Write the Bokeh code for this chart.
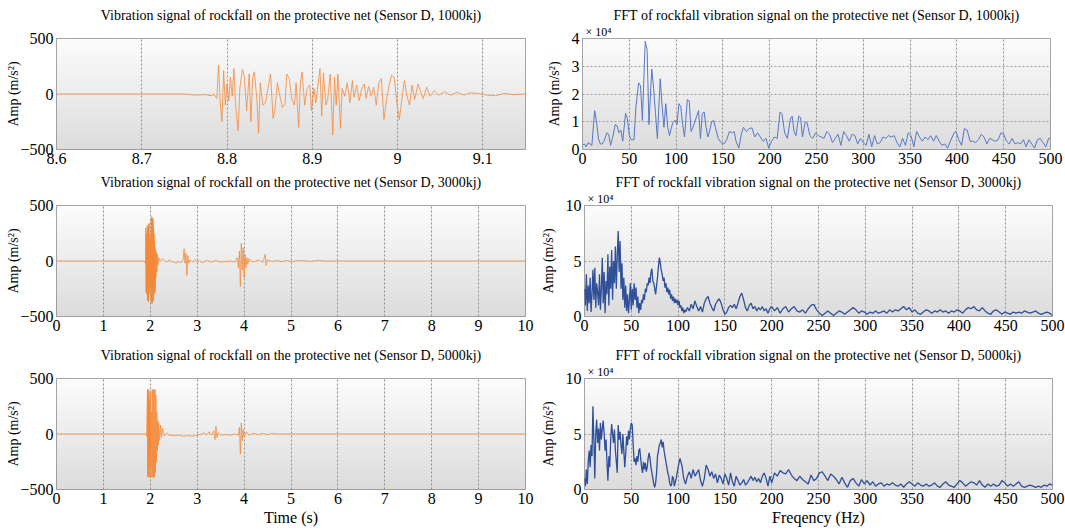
import numpy as np
from bokeh.plotting import figure
from bokeh.layouts import column, row
from bokeh.models import FixedTicker, Title
from bokeh.embed import file_html
from bokeh.resources import INLINE

SERIF = "Liberation Serif"

# ---------------- data ----------------
# time signal, 1000 kJ (t [s], amp [m/s^2])
sig1000 = [(8.60, 0), (8.75, 0), (8.755, -5), (8.765, -10), (8.775, -5), (8.78, -15), (8.785, -5),
           (8.788, -40), (8.790, 260), (8.792, -80), (8.794, -250), (8.796, 210), (8.798, -100),
           (8.800, 90), (8.802, -60), (8.804, 150), (8.806, -20), (8.808, 230), (8.810, -100),
           (8.813, -330), (8.815, 50), (8.818, 220), (8.820, 170), (8.823, -150), (8.826, 180),
           (8.828, -250), (8.830, 150), (8.832, 200), (8.835, -50), (8.837, -350), (8.839, 100),
           (8.842, -100), (8.845, -80), (8.848, 50), (8.851, 180), (8.854, -220), (8.856, -150),
           (8.859, 100), (8.862, -20), (8.865, -120), (8.868, -90), (8.870, 180), (8.873, 140),
           (8.876, -50), (8.879, -100), (8.881, 100), (8.884, -300), (8.886, 100), (8.888, 200),
           (8.891, -100), (8.894, 50), (8.897, 80), (8.899, -150), (8.902, 50), (8.904, -80),
           (8.906, 40), (8.909, 230), (8.911, -200), (8.913, 190), (8.916, -100), (8.918, -50),
           (8.921, 180), (8.924, -370), (8.926, 150), (8.928, -100), (8.930, 180), (8.933, -310),
           (8.935, 50), (8.938, -20), (8.941, 100), (8.944, -80), (8.947, 120), (8.949, -30),
           (8.952, 80), (8.955, -60), (8.958, 50), (8.961, 90), (8.963, -40), (8.966, 70),
           (8.969, -20), (8.972, 60), (8.975, -100), (8.978, 100), (8.981, 140), (8.984, -230),
           (8.987, -50), (8.990, 80), (8.993, 170), (8.996, 150), (8.999, -70), (9.002, -230),
           (9.005, -50), (9.008, 120), (9.011, -20), (9.014, -100), (9.017, 80), (9.020, -50),
           (9.024, 90), (9.027, 20), (9.030, -40), (9.034, 60), (9.038, -20), (9.043, 30),
           (9.048, -10), (9.055, 20), (9.062, -10), (9.070, 15), (9.078, -10), (9.085, 10),
           (9.095, 5), (9.105, -10), (9.115, -15), (9.125, 5), (9.135, -5), (9.15, 0)]

# time signal, 3000 kJ
sig3000 = [(0, 0), (1.88, 0), (1.90, -30), (1.905, 300), (1.91, -280), (1.915, 250), (1.92, -300),
           (1.925, 200), (1.93, -200), (1.935, 320), (1.94, -350), (1.945, 280), (1.95, -360),
           (1.955, 300), (1.96, -370), (1.965, 330), (1.97, -300), (1.975, 340), (1.98, -250),
           (1.985, 200), (1.99, -280), (1.995, 150), (2.0, -200), (2.01, 250), (2.015, -350),
           (2.02, 380), (2.025, -380), (2.03, 400), (2.035, -370), (2.04, 390), (2.045, -380),
           (2.05, 350), (2.055, -300), (2.06, 380), (2.065, -360), (2.07, 300), (2.075, -250),
           (2.08, 250), (2.085, -300), (2.09, 180), (2.095, -200), (2.10, 120), (2.11, -280),
           (2.115, 100), (2.12, -150), (2.13, 80), (2.14, -100), (2.15, 60), (2.16, -40),
           (2.18, 30), (2.2, 0), (2.25, 20), (2.3, 5), (2.35, -10), (2.4, 10), (2.45, -5),
           (2.5, -10), (2.55, -20), (2.6, -5), (2.65, -15), (2.7, 10), (2.72, 110), (2.74, -20),
           (2.76, 70), (2.78, -130), (2.8, 50), (2.82, -20), (2.85, 10), (2.9, -10), (2.95, 15),
           (3.0, -10), (3.05, 5), (3.1, -15), (3.2, 5), (3.3, -10), (3.4, 5), (3.5, -10),
           (3.6, -5), (3.7, 0), (3.8, -10), (3.85, 30), (3.88, -60), (3.9, 90), (3.92, -230),
           (3.94, 160), (3.96, -80), (3.98, 120), (4.0, -150), (4.02, 60), (4.04, -60),
           (4.06, 30), (4.08, -30), (4.1, 20), (4.2, -10), (4.3, 10), (4.4, -10), (4.45, 60),
           (4.47, -40), (4.5, 10), (4.6, -5), (4.7, 5), (4.8, -5), (4.9, 5), (5.0, -5),
           (5.2, 5), (5.4, -3), (5.6, 5), (5.7, 0), (10, 0)]

# time signal, 5000 kJ
sig5000 = [(0, 0), (1.90, 0), (1.92, -20), (1.94, 400), (1.945, -380), (1.95, 400), (1.955, -390),
           (1.96, 350), (1.965, -300), (1.97, 400), (1.975, -390), (1.98, 300), (1.985, -200),
           (1.99, 150), (1.995, -380), (2.0, 380), (2.005, -300), (2.01, -100), (2.02, 200),
           (2.03, -390), (2.04, 400), (2.05, -390), (2.06, 400), (2.07, -390), (2.08, 400),
           (2.09, -390), (2.10, 400), (2.11, -350), (2.12, 350), (2.13, -250), (2.14, 200),
           (2.15, -150), (2.16, 120), (2.17, -100), (2.18, 100), (2.2, -60), (2.22, 80),
           (2.24, -30), (2.26, 50), (2.3, -20), (2.35, 10), (2.4, -10), (2.5, -15), (2.6, -10),
           (2.7, -20), (2.8, -15), (2.9, -20), (3.0, -10), (3.1, 0), (3.15, 10), (3.2, -10),
           (3.25, 20), (3.3, -10), (3.35, 30), (3.38, -50), (3.4, 70), (3.42, -30), (3.45, 10),
           (3.5, -10), (3.6, -5), (3.7, -10), (3.8, 0), (3.88, -10), (3.9, 60), (3.92, -180),
           (3.94, 100), (3.96, -60), (3.98, 40), (4.0, -30), (4.05, 20), (4.1, -10), (4.2, 5),
           (4.3, -5), (4.4, 5), (4.5, -5), (4.6, 5), (4.7, 0), (10, 0)]

# FFT spectra (freq [Hz], amp [x 10^4])
fft1000 = [(0, 0.15), (2, 0.2), (4, 0.1), (6, 0.25), (8, 0.2), (10, 0.15), (13, 1.4), (15, 1.0),
           (17, 0.4), (19, 0.2), (21, 0.2), (23, 0.3), (26, 0.6), (28, 0.55), (30, 0.15),
           (32, 0.4), (35, 0.9), (37, 0.85), (39, 0.6), (41, 0.7), (43, 0.3), (46, 1.3),
           (48, 1.1), (50, 0.5), (52, 0.35), (55, 0.35), (57, 1.5), (60, 2.4), (62, 2.3),
           (64, 1.05), (67, 3.9), (69, 3.6), (71, 0.9), (74, 2.9), (76, 2.2), (78, 1.3),
           (80, 0.4), (83, 2.55), (85, 1.6), (87, 0.8), (89, 1.65), (91, 0.8), (93, 0.5),
           (95, 0.8), (97, 1.0), (99, 1.05), (101, 0.9), (103, 1.65), (105, 1.55), (107, 0.9),
           (109, 0.45), (112, 1.8), (114, 1.75), (116, 0.65), (118, 0.8), (120, 1.0),
           (122, 1.2), (124, 1.4), (126, 0.4), (128, 1.3), (130, 1.35), (132, 0.8), (134, 0.45),
           (136, 0.7), (138, 1.0), (140, 1.05), (142, 0.8), (145, 0.4), (148, 0.25), (151, 0.2),
           (154, 0.35), (157, 0.65), (160, 0.6), (162, 0.65), (164, 0.3), (167, 0.05),
           (170, 0.6), (172, 0.8), (175, 0.65), (178, 0.75), (181, 0.78), (184, 0.45),
           (187, 0.6), (190, 0.45), (193, 0.3), (196, 0.4), (199, 0.05), (202, 0.3), (205, 0.45),
           (208, 0.4), (211, 1.35), (213, 1.3), (216, 0.6), (219, 0.4), (222, 1.1), (224, 1.2),
           (226, 0.65), (228, 0.5), (231, 1.2), (233, 1.15), (235, 0.45), (238, 1.0), (240, 0.95),
           (243, 0.5), (246, 0.4), (249, 0.6), (252, 0.5), (255, 0.45), (258, 0.4), (261, 0.65),
           (264, 0.55), (267, 0.25), (270, 0.4), (273, 0.55), (276, 0.15), (279, 0.65),
           (282, 0.5), (285, 0.3), (288, 0.55), (291, 0.5), (294, 0.2), (297, 0.4), (300, 0.25),
           (303, 0.15), (306, 0.55), (309, 0.1), (312, 0.5), (315, 0.2), (318, 0.25), (321, 0.45),
           (324, 0.4), (327, 0.5), (330, 0.45), (333, 0.5), (336, 0.25), (339, 0.1), (342, 0.4),
           (345, 0.15), (348, 0.6), (351, 0.5), (354, 0.1), (357, 0.65), (360, 0.45), (363, 0.3),
           (366, 0.45), (369, 0.35), (372, 0.5), (375, 0.3), (378, 0.5), (381, 0.3), (384, 0.15),
           (387, 0.2), (390, 0.05), (393, 0.3), (397, 0.6), (399, 0.65), (402, 0.35), (405, 0.15),
           (408, 0.75), (411, 0.7), (414, 0.3), (417, 0.3), (420, 0.25), (423, 0.35), (426, 0.55),
           (429, 0.45), (432, 0.2), (435, 0.4), (438, 0.35), (441, 0.3), (444, 0.35), (447, 0.6),
           (450, 0.55), (453, 0.3), (456, 0.2), (459, 0.4), (462, 0.2), (465, 0.25), (468, 0.2),
           (471, 0.35), (474, 0.1), (477, 0.35), (480, 0.2), (483, 0.05), (486, 0.35), (489, 0.4),
           (492, 0.25), (495, 0.1), (498, 0.4), (500, 0.4)]

fft3000 = [(0, 2.5), (1, 1.0), (2, 3.8), (3, 0.5), (4, 2.8), (5, 1.2), (6, 3.5), (7, 0.4), (8, 2.0),
           (9, 4.2), (10, 1.5), (11, 4.4), (12, 0.8), (13, 3.0), (14, 2.2), (15, 1.0), (16, 3.8),
           (17, 0.6), (18, 2.5), (19, 5.3), (20, 1.2), (21, 4.0), (22, 0.3), (23, 3.2), (24, 2.0),
           (25, 5.6), (26, 1.0), (27, 4.5), (28, 2.5), (29, 6.0), (30, 1.5), (31, 5.0), (32, 3.0),
           (33, 6.3), (34, 2.5), (35, 5.5), (36, 7.7), (37, 4.0), (38, 6.8), (39, 2.5), (40, 4.8),
           (41, 1.5), (42, 3.5), (43, 0.8), (44, 2.8), (45, 0.5), (46, 2.0), (47, 0.3), (48, 1.5),
           (49, 3.0), (50, 0.6), (51, 2.5), (52, 1.0), (53, 3.0), (54, 1.5), (55, 2.6), (56, 0.8),
           (57, 1.8), (58, 0.3), (59, 1.2), (60, 0.6), (61, 1.5), (62, 1.2), (63, 2.0), (64, 1.5),
           (65, 2.5), (66, 2.2), (67, 3.0), (68, 2.8), (69, 3.5), (70, 3.0), (71, 4.0), (72, 4.3),
           (73, 3.2), (74, 3.0), (75, 2.5), (76, 2.0), (77, 2.8), (78, 3.5), (79, 4.5), (80, 5.3),
           (81, 4.8), (82, 4.2), (83, 3.8), (84, 3.2), (85, 3.5), (86, 2.6), (87, 3.0), (88, 2.2),
           (89, 2.6), (90, 2.0), (91, 2.4), (92, 1.6), (93, 2.0), (94, 1.4), (95, 1.8), (96, 1.2),
           (97, 1.6), (98, 1.2), (99, 1.5), (100, 1.0), (101, 1.4), (102, 0.8), (103, 1.0),
           (104, 0.5), (105, 0.8), (106, 0.3), (107, 0.6), (108, 0.4), (110, 0.8), (112, 0.5),
           (114, 1.1), (116, 0.7), (118, 1.4), (120, 0.9), (122, 0.5), (124, 0.9), (126, 0.4),
           (128, 1.2), (130, 1.6), (132, 1.8), (134, 1.2), (136, 0.8), (138, 0.5), (140, 1.1),
           (142, 1.4), (144, 1.6), (146, 1.2), (148, 0.6), (150, 0.2), (152, 0.4), (154, 0.8),
           (156, 1.0), (158, 0.8), (160, 1.1), (162, 0.7), (164, 1.2), (166, 1.8), (168, 2.1),
           (170, 1.5), (172, 0.8), (174, 0.5), (176, 1.0), (178, 1.2), (180, 0.7), (182, 0.9),
           (184, 0.5), (186, 0.8), (188, 0.6), (190, 0.9), (192, 0.5), (194, 0.7), (196, 0.3),
           (198, 0.7), (200, 0.9), (203, 0.5), (206, 0.8), (209, 0.3), (212, 0.7), (215, 0.9),
           (218, 0.4), (221, 0.7), (224, 0.9), (227, 0.5), (230, 0.4), (233, 0.6), (236, 0.3),
           (239, 0.7), (242, 1.0), (245, 1.1), (248, 0.6), (251, 0.3), (254, 0.1), (257, 0.3),
           (260, 0.5), (263, 0.3), (266, 0.1), (269, 0.3), (272, 0.5), (275, 0.4), (278, 0.2),
           (281, 0.4), (284, 0.6), (287, 0.8), (290, 0.6), (293, 0.3), (296, 0.5), (299, 0.4),
           (302, 0.2), (305, 0.4), (308, 0.3), (311, 0.5), (314, 0.3), (317, 0.4), (320, 0.5),
           (323, 0.3), (326, 0.6), (329, 0.4), (332, 0.6), (335, 0.5), (338, 0.7), (341, 0.9),
           (344, 0.6), (347, 0.8), (350, 0.4), (353, 0.6), (356, 0.3), (359, 0.2), (362, 0.4),
           (365, 0.6), (368, 0.5), (371, 0.3), (374, 0.5), (377, 0.4), (380, 0.6), (383, 0.4),
           (386, 0.5), (389, 0.3), (392, 0.5), (395, 0.4), (398, 0.6), (401, 0.5), (404, 0.3),
           (407, 0.6), (410, 0.8), (413, 0.7), (416, 0.9), (419, 0.6), (422, 0.5), (425, 0.8),
           (428, 0.5), (431, 0.3), (434, 0.2), (437, 0.5), (440, 0.6), (443, 0.4), (446, 0.2),
           (449, 0.4), (452, 0.3), (455, 0.2), (458, 0.4), (461, 0.3), (464, 0.4), (467, 0.3),
           (470, 0.5), (473, 0.4), (476, 0.3), (479, 0.4), (482, 0.5), (485, 0.3), (488, 0.2),
           (491, 0.3), (494, 0.4), (497, 0.3), (500, 0.1)]

fft5000 = [(0, 1.0), (1, 0.3), (2, 1.8), (3, 0.5), (4, 2.5), (5, 3.5), (6, 2.0), (7, 4.0), (8, 3.0),
           (9, 7.5), (10, 4.5), (11, 1.0), (12, 5.0), (13, 6.3), (14, 4.2), (15, 5.5), (16, 3.5),
           (17, 6.0), (18, 4.5), (19, 5.5), (20, 6.2), (21, 5.0), (22, 3.5), (23, 4.5), (24, 2.5),
           (25, 0.8), (26, 3.0), (27, 2.0), (28, 4.5), (29, 5.9), (30, 5.0), (31, 4.2), (32, 5.4),
           (33, 3.5), (34, 2.5), (35, 1.5), (36, 5.8), (37, 4.5), (38, 5.2), (39, 4.0), (40, 3.2),
           (41, 5.0), (42, 3.5), (43, 2.0), (44, 3.2), (45, 4.8), (46, 4.0), (47, 5.3), (48, 4.5),
           (49, 5.5), (50, 6.0), (51, 5.8), (52, 4.0), (53, 2.5), (54, 2.8), (55, 2.2), (56, 3.0),
           (57, 2.5), (58, 3.5), (59, 3.7), (60, 2.8), (61, 2.0), (62, 1.5), (63, 2.5), (64, 1.8),
           (65, 2.4), (66, 1.6), (67, 2.0), (68, 2.8), (69, 3.3), (70, 2.8), (71, 2.0), (72, 1.5),
           (73, 1.0), (74, 0.5), (75, 0.2), (76, 0.6), (77, 1.5), (78, 3.0), (79, 3.5), (80, 4.0),
           (81, 4.2), (82, 4.5), (83, 3.8), (84, 4.3), (85, 3.5), (86, 3.0), (87, 2.5), (88, 2.0),
           (89, 1.5), (90, 1.2), (91, 0.6), (92, 0.3), (93, 0.4), (94, 1.2), (95, 1.0), (96, 0.3),
           (98, 1.0), (100, 2.0), (102, 2.8), (104, 2.2), (106, 1.0), (108, 0.5), (110, 1.2),
           (112, 1.6), (114, 1.0), (116, 1.8), (118, 1.2), (120, 1.5), (122, 1.8), (124, 0.8),
           (126, 0.3), (128, 1.0), (130, 2.2), (132, 1.8), (134, 1.2), (136, 1.6), (138, 1.0),
           (140, 1.4), (142, 0.6), (144, 1.3), (146, 1.0), (148, 0.5), (150, 1.4), (152, 1.0),
           (154, 0.4), (156, 1.5), (158, 0.7), (160, 0.3), (162, 1.2), (164, 0.8), (166, 0.4),
           (168, 0.6), (170, 0.9), (172, 0.4), (174, 0.6), (176, 0.9), (178, 1.2), (180, 0.8),
           (182, 1.1), (184, 0.7), (186, 1.0), (188, 0.6), (190, 1.2), (192, 1.5), (194, 1.0),
           (196, 0.3), (198, 1.2), (200, 0.6), (203, 1.5), (206, 1.2), (209, 1.7), (212, 1.5),
           (215, 1.4), (218, 1.8), (221, 1.3), (224, 1.0), (227, 0.8), (230, 1.2), (233, 0.9),
           (236, 0.7), (239, 0.5), (242, 1.3), (245, 0.8), (248, 1.0), (251, 1.5), (254, 1.6),
           (257, 1.2), (260, 0.8), (263, 1.4), (266, 1.2), (269, 0.9), (272, 0.5), (275, 1.1),
           (278, 0.6), (281, 0.2), (284, 0.8), (287, 1.0), (290, 0.6), (293, 0.3), (296, 0.9),
           (299, 0.5), (302, 0.8), (305, 0.4), (308, 0.7), (311, 0.3), (314, 0.5), (317, 0.6),
           (320, 0.3), (323, 0.5), (326, 0.4), (329, 0.6), (332, 0.4), (335, 0.3), (338, 0.5),
           (341, 0.2), (344, 0.5), (347, 0.7), (350, 0.5), (353, 0.3), (356, 0.6), (359, 0.4),
           (362, 0.3), (365, 0.5), (368, 0.3), (371, 0.4), (374, 0.6), (377, 0.3), (380, 0.2),
           (383, 0.5), (386, 0.7), (389, 0.4), (392, 0.3), (395, 0.2), (398, 0.5), (401, 0.8),
           (404, 0.6), (407, 0.3), (410, 0.5), (413, 0.7), (416, 0.6), (419, 0.4), (422, 0.8),
           (425, 0.4), (428, 0.2), (431, 0.5), (434, 0.3), (437, 0.5), (440, 0.3), (443, 0.4),
           (446, 0.8), (449, 0.6), (452, 0.3), (455, 0.5), (458, 0.3), (461, 0.5), (464, 0.7),
           (467, 0.3), (470, 0.2), (473, 0.3), (476, 0.4), (479, 0.3), (482, 0.2), (485, 0.3),
           (488, 0.2), (491, 0.4), (494, 0.3), (497, 0.5), (500, 0.4)]

# ticks / labels
x_ticks_1000 = [8.6, 8.7, 8.8, 8.9, 9.0, 9.1]
x_labels_1000 = ["8.6", "8.7", "8.8", "8.9", "9", "9.1"]
x_ticks_time = [0, 1, 2, 3, 4, 5, 6, 7, 8, 9, 10]
x_labels_time = ["0", "1", "2", "3", "4", "5", "6", "7", "8", "9", "10"]
x_ticks_freq = [0, 50, 100, 150, 200, 250, 300, 350, 400, 450, 500]
x_labels_freq = ["0", "50", "100", "150", "200", "250", "300", "350", "400", "450", "500"]
y_ticks_sig = [-500, 0, 500]
y_ticks_fft1 = [0, 1, 2, 3, 4]
y_ticks_fft2 = [0, 5, 10]

titles_left = ["Vibration signal of rockfall on the protective net (Sensor D, 1000kj)",
               "Vibration signal of rockfall on the protective net (Sensor D, 3000kj)",
               "Vibration signal of rockfall on the protective net (Sensor D, 5000kj)"]
titles_right = ["FFT of rockfall vibration signal on the protective net (Sensor D, 1000kj)",
                "FFT of rockfall vibration signal on the protective net (Sensor D, 3000kj)",
                "FFT of rockfall vibration signal on the protective net (Sensor D, 5000kj)"]
y_label = "Amp (m/s²)"
multiplier_text = "× 10⁴"

# ---------------- styling helpers ----------------
N_GRAD = 64
bot_rgb = np.array([220, 220, 220])
top_rgb = np.array([252, 252, 252])
grad_palette = ["#%02x%02x%02x" % tuple(int(round(v)) for v in bot_rgb + (top_rgb - bot_rgb) * i / (N_GRAD - 1))
                for i in range(N_GRAD)]
grad_img = np.arange(N_GRAD, dtype=float).reshape(N_GRAD, 1)

FRAME_H = 111
ROW_BORDERS = [(38, 22), (34, 22), (40, 42)]


def make_panel(side, rowi, xr, yr, xticks, xlabels, yticks, ygrid_ticks, title, xlabel=None):
    top, bottom = ROW_BORDERS[rowi]
    if side == "left":
        bl, br, fw = 56, 12, 469
    else:
        bl, br, fw = 45, 15, 468
    p = figure(x_range=xr, y_range=yr, frame_width=fw, frame_height=FRAME_H,
               min_border_left=bl, min_border_right=br, min_border_top=top, min_border_bottom=bottom,
               output_backend="svg", toolbar_location=None)
    p.background_fill_color = "white"
    p.border_fill_color = "white"
    p.outline_line_color = "#8a8a8a"
    p.outline_line_width = 1

    # gradient background of the plotting area
    p.image(image=[grad_img], x=xr[0], y=yr[0], dw=xr[1] - xr[0], dh=yr[1] - yr[0],
            palette=grad_palette, level="image")

    # multiplier line (nearest the frame), then the main title
    p.add_layout(Title(text=multiplier_text, align="left", offset=3, standoff=0,
                       text_font=SERIF, text_font_size="12px", text_font_style="normal",
                       text_color="black" if side == "right" else "white"), "above")
    p.add_layout(Title(text=title, align="center", standoff=0,
                       text_font=SERIF, text_font_size="14px", text_font_style="normal",
                       text_color="black"), "above")

    p.xaxis.ticker = FixedTicker(ticks=xticks)
    p.xaxis.major_label_overrides = dict(zip(xticks, xlabels))
    p.yaxis.ticker = FixedTicker(ticks=yticks)
    for ax in (p.xaxis[0], p.yaxis[0]):
        ax.axis_line_color = None
        ax.major_tick_line_color = None
        ax.minor_tick_line_color = None
        ax.major_tick_out = 0
        ax.major_tick_in = 0
        ax.minor_tick_out = 0
        ax.minor_tick_in = 0
        ax.major_label_text_font = SERIF
        ax.major_label_text_font_size = "16px"
        ax.major_label_text_color = "black"
        ax.major_label_standoff = 3
        ax.axis_label_text_font = SERIF
        ax.axis_label_text_font_style = "normal"
        ax.axis_label_text_color = "black"
    p.yaxis.axis_label = y_label
    p.yaxis.axis_label_text_font_size = "14px"
    p.yaxis.axis_label_standoff = -4 if side == "left" else 7
    if xlabel:
        p.xaxis.axis_label = xlabel
        p.xaxis.axis_label_text_font_size = "16px"
        p.xaxis.axis_label_standoff = 2

    p.xgrid.ticker = FixedTicker(ticks=xticks)
    p.xgrid.grid_line_color = "#8f8f8f"
    p.xgrid.grid_line_dash = "2 2"
    p.xgrid.grid_line_width = 1
    p.ygrid.ticker = FixedTicker(ticks=ygrid_ticks)
    p.ygrid.grid_line_color = "#9a9a9a" if side == "right" else "#c8c8c8"
    p.ygrid.grid_line_dash = "2 2"
    p.ygrid.grid_line_width = 1
    return p


bottom_label_left = "Time (s)"
bottom_label_right = "Freqency (Hz)"

left_specs = [
    (sig1000, (8.6, 9.15), x_ticks_1000, x_labels_1000),
    (sig3000, (0, 10), x_ticks_time, x_labels_time),
    (sig5000, (0, 10), x_ticks_time, x_labels_time),
]
right_specs = [
    (fft1000, (0, 4), y_ticks_fft1, [1, 2, 3], "#5577c6", 1.0),
    (fft3000, (0, 10), y_ticks_fft2, [5], "#2f4f98", 1.3),
    (fft5000, (0, 10), y_ticks_fft2, [5], "#2f4f98", 1.3),
]

rows = []
for i in range(3):
    sig, xr, xt, xl = left_specs[i]
    pl = make_panel("left", i, xr, (-500, 500), xt, xl, y_ticks_sig, [0], titles_left[i],
                    bottom_label_left if i == 2 else None)
    ts, amps = zip(*sig)
    pl.line(list(ts), list(amps), line_color="#f58a3a", line_width=1, line_alpha=0.8)

    fft, yr, yt, yg, col, lw = right_specs[i]
    pr = make_panel("right", i, (0, 500), yr, x_ticks_freq, x_labels_freq, yt, yg, titles_right[i],
                    bottom_label_right if i == 2 else None)
    fs, vals = zip(*fft)
    pr.line(list(fs), list(vals), line_color=col, line_width=lw)
    rows.append(row(pl, pr))

layout = column(*rows)
open("out.html", "w").write(file_html(layout, INLINE))
